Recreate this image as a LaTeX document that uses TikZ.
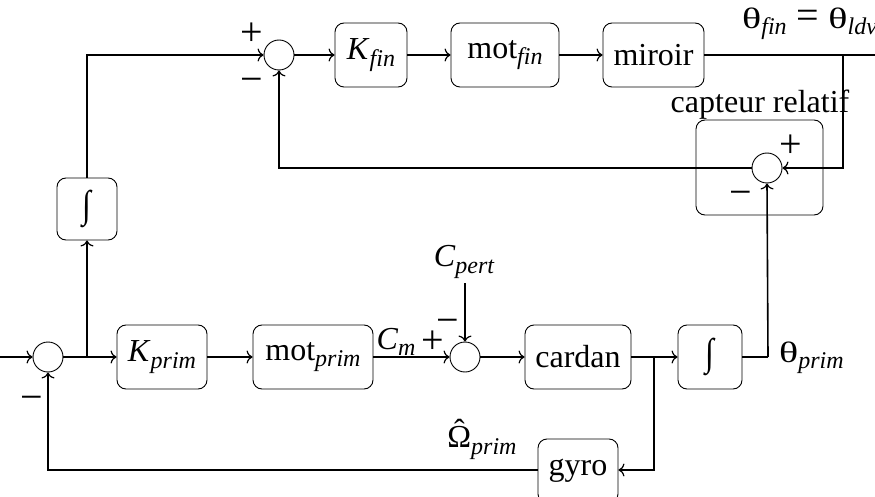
\documentclass[tikz,border=0pt]{standalone}
\usepackage{fontspec}
\setmainfont{Liberation Serif}
\usetikzlibrary{arrows.meta}
\newcommand{\sbs}[1]{\raisebox{-0.2em}{\fontsize{24}{28}\selectfont\itshape #1}}
\newcommand{\vsub}[2]{\textit{#1}\sbs{#2}}
\newcommand{\omhat}{\ooalign{Ω\cr\hidewidth\raisebox{0.2em}{ˆ}\hidewidth\cr}}
\newcommand{\bigint}{\scalebox{1}[1.2]{∫}}
\newcommand{\sgn}[1]{{\fontsize{40}{44}\selectfont #1}}
\newcommand{\thet}{\scalebox{1.25}[0.92]{θ}}
\begin{document}
\begin{tikzpicture}[x=1pt,y=-1pt,
  font=\fontsize{32}{38}\selectfont,
  blk/.style={draw,rounded corners=9pt,line width=0.9pt,minimum height=64pt,inner sep=0pt},
  sumc/.style={draw,circle,line width=0.9pt,minimum size=30pt,inner sep=0pt},
  lbl/.style={inner sep=0pt},
  wire/.style={line width=1.6pt},
  arr/.style={wire,-{To[length=6pt,width=13pt,line width=1.2pt]}}]
\useasboundingbox (0,0) rectangle (875,497);
% top loop
\node[sumc] (s1) at (279,55) {};
\node[blk,minimum width=72pt] (kfin) at (371,55) {\vsub{K}{fin}};
\node[blk,minimum width=108pt] (motfin) at (505,55) {mot\sbs{fin}};
\node[blk,minimum width=101pt] (mir) at (653.5,55) {miroir};
\node[blk,minimum width=127pt,minimum height=95pt] (capt) at (759.5,167.5) {};
\node[lbl,anchor=south] (captl) at (760,120) {capteur relatif};
\node[sumc] (s2) at (767,168) {};
\coordinate (out) at (885,55);
\coordinate (br1) at (843,55);
\node[lbl,anchor=west] (tf) at (742,24) {\thet\sbs{fin}\hspace{0.3em}\sgn{=}\hspace{0.3em}\thet\sbs{ldv}};
% integrator left
\node[blk,minimum width=60pt,minimum height=62pt] (int1) at (87,209) {\bigint};
% bottom row
\coordinate (in) at (0,357);
\node[sumc] (s3) at (48,357) {};
\coordinate (br0) at (87,357);
\node[blk,minimum width=90pt] (kprim) at (162,357) {\vsub{K}{prim}};
\node[blk,minimum width=120pt] (motprim) at (313,357) {mot\sbs{prim}};
\node[sumc] (s4) at (465,357) {};
\node[lbl] (cpert) at (464,262) {\vsub{C}{pert}};
\coordinate (cp) at (465,283);
\node[blk,minimum width=106pt] (cardan) at (578,357) {cardan};
\coordinate (br2) at (654,357);
\node[blk,minimum width=64pt] (int2) at (710,357) {\bigint};
\coordinate (c2) at (768,357);
\node[lbl,anchor=west] (thp) at (779,358) {\thet\sbs{prim}};
\node[blk,minimum width=80pt] (gyro) at (578,471) {gyro};
\coordinate (gy) at (654,470);
% signs
\node[lbl] (p1) at (252,34) {\sgn{+}};
\node[lbl] (m1) at (252,85) {\sgn{−}};
\node[lbl] (p2) at (791,146) {\sgn{+}};
\node[lbl] (m2) at (741,198) {\sgn{−}};
\node[lbl] (m3) at (32,403) {\sgn{−}};
\node[lbl] (p4) at (433,342) {\sgn{+}};
\node[lbl] (m4) at (448,326) {\sgn{−}};
\node[lbl] (cm) at (396,342) {\vsub{C}{m}};
\node[lbl] (om) at (482,443) {\omhat\sbs{prim}};
% wires
\draw[arr] (int1.north) |- (s1.west);
\draw[arr] (s1) -- (kfin);
\draw[arr] (kfin) -- (motfin);
\draw[arr] (motfin) -- (mir);
\draw[arr] (mir) -- (out);
\draw[arr] (br1) |- (s2.east);
\draw[arr] (s2.west) -| (s1.south);
\draw[arr] (in) -- (s3.west);
\draw[wire] (s3.east) -- (br0);
\draw[arr] (br0) -- (kprim);
\draw[arr] (br0) -- (int1.south);
\draw[arr] (kprim) -- (motprim);
\draw[arr] (motprim) -- (s4);
\draw[arr] (cp) -- (s4.north);
\draw[arr] (s4) -- (cardan);
\draw[arr] (cardan) -- (int2);
\draw[wire] (int2.east) -- (c2);
\draw[arr] (c2) -- (s2.south);
\draw[arr] (br2) |- (gyro.east |- gy);
\draw[arr] (gyro.west |- gy) -| (s3.south);
\end{tikzpicture}
\end{document}
